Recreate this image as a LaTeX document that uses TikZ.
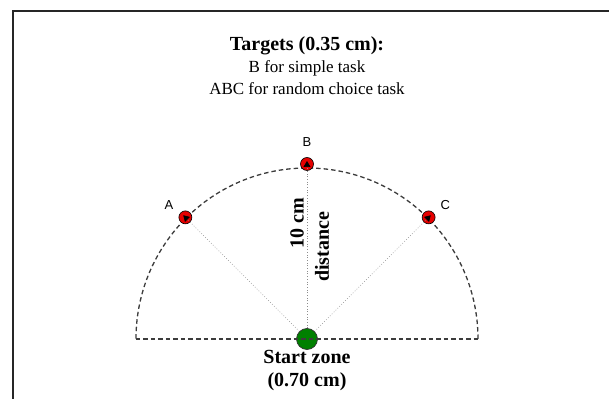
\documentclass[tikz,border=0pt]{standalone}
\usepackage{fontspec}
\setmainfont{Liberation Serif}
\newfontfamily\labelfont{Liberation Sans}
\usetikzlibrary{arrows.meta,positioning}
\definecolor{arcgray}{RGB}{60,60,60}
\definecolor{raygray}{RGB}{140,140,140}
\definecolor{targetred}{RGB}{230,0,0}
\definecolor{startgreen}{RGB}{0,128,0}

\begin{document}
\begin{tikzpicture}[x=1pt,y=1pt,
  arcline/.style={arcgray,line width=1.3pt,dash pattern=on 4.5pt off 3pt},
  ray/.style={raygray,line width=0.7pt,dotted,-{Triangle[black,length=6pt,width=7pt]}},
  target/.style={circle,draw=black,fill=targetred,line width=0.6pt,minimum size=13pt,inner sep=0pt},
  startzone/.style={circle,draw=black!80,fill=startgreen,line width=0.7pt,minimum size=21pt,inner sep=0pt},
  tlabel/.style={font=\labelfont\fontsize{13}{15}\selectfont,inner sep=0pt},
  caption/.style={font=\fontsize{17}{22}\selectfont,align=center},
  boldcap/.style={font=\fontsize{20}{23}\selectfont\bfseries,align=center},
]
  \useasboundingbox (-307,-59) rectangle (302,339);
  \draw[line width=1.5pt,black!85] (-294,-70) -- (-294,328) -- (320,328);

  \node[caption] (title) at (0,273) {{\fontsize{20}{22}\selectfont\bfseries Targets (0.35 cm):}\\B for simple task\\ABC for random choice task};

  % half circle of reach
  \coordinate (west) at (180:171);
  \coordinate (east) at (0:171);
  \draw[arcline] (east) arc[start angle=0,end angle=180,radius=171];

  \node[startzone] (start) at (0,0) {};
  \draw[arcline] (west) -- (east);

  \node[target] (tA) at (135:172) {};
  \node[target] (tB) at (90:175) {};
  \node[target] (tC) at (45:172) {};

  \foreach \t in {tA,tB,tC}
    \draw[ray,shorten >=-3pt] (start) -- (\t.center);

  \node[tlabel,above left=3pt and 7pt of tA] (lA) {A};
  \node[tlabel,above=10pt of tB] (lB) {B};
  \node[tlabel,above right=3pt and 7pt of tC] (lC) {C};

  \node[boldcap,rotate=90] (dist1) at (-10,116) {10 cm};
  \node[boldcap,rotate=90] (dist2) at (15,92) {distance};
  \node[boldcap] (zone) at (0,-32) {Start zone\\(0.70 cm)};
\end{tikzpicture}
\end{document}
